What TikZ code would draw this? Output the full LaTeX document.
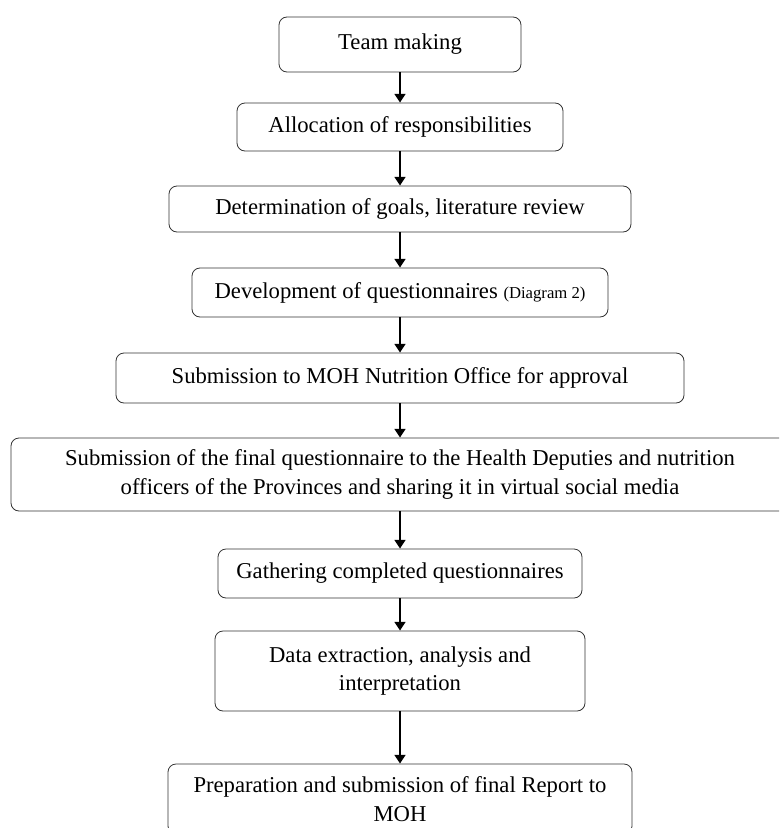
\documentclass[tikz,border=0pt]{standalone}
\usepackage{fontspec}
\setmainfont{Liberation Serif}
\usetikzlibrary{arrows.meta}

\begin{document}
\begin{tikzpicture}[x=0.75pt,y=-0.75pt,
    stepbox/.style={draw=black!80,line width=0.6pt,rounded corners=6pt,align=center,
      inner sep=0pt,font=\fontsize{17}{21.5}\selectfont},
    flow/.style={line width=2.1pt,-{Triangle[width=8pt,length=6.5pt]}}]
  \useasboundingbox (0,0) rectangle (779,828);
  \clip (0,0) rectangle (779,828);

  % steps
  \node[stepbox,minimum width=181.5pt,minimum height=41.25pt] (team) at (400,44.5) {Team making};
  \node[stepbox,minimum width=244.5pt,minimum height=36pt] (alloc) at (400,127) {Allocation of responsibilities};
  \node[stepbox,minimum width=346.5pt,minimum height=34.5pt] (goals) at (400,209) {Determination of goals, literature review};
  \node[stepbox,minimum width=312pt,minimum height=36.75pt] (quest) at (400,292.5)
    {Development of questionnaires {\fontsize{12.5}{15}\selectfont(Diagram 2)}};
  \node[stepbox,minimum width=426pt,minimum height=37.5pt] (moh) at (400,378) {Submission to MOH Nutrition Office for approval};
  \node[stepbox,minimum width=583.5pt,minimum height=54.75pt] (share) at (400,474.5)
    {Submission of the final questionnaire to the Health Deputies and nutrition\\
     officers of the Provinces and sharing it in virtual social media};
  \node[stepbox,minimum width=273pt,minimum height=36.75pt] (gather) at (400,573.5) {Gathering completed questionnaires};
  \node[stepbox,minimum width=277.5pt,minimum height=60pt] (data) at (400,671)
    {Data extraction, analysis and\\ interpretation};
  \node[stepbox,minimum width=348pt,minimum height=52.5pt] (report) at (400,799)
    {Preparation and submission of final Report to\\ MOH};

  % arrows
  \draw[flow] (team) -- (alloc);
  \draw[flow] (alloc) -- (goals);
  \draw[flow] (goals) -- (quest);
  \draw[flow] (quest) -- (moh);
  \draw[flow] (moh) -- (share);
  \draw[flow] (share) -- (gather);
  \draw[flow] (gather) -- (data);
  \draw[flow] (data) -- (report);
\end{tikzpicture}
\end{document}
